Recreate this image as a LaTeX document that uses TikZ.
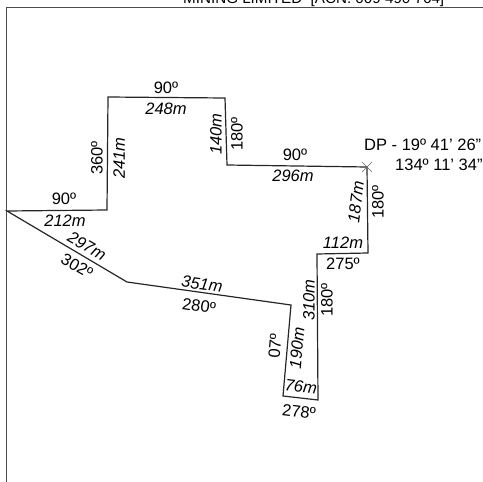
\documentclass[tikz,border=0pt]{standalone}
\usepackage{fontspec}
\setmainfont{Liberation Sans}
\usetikzlibrary{calc}
\tikzset{
  x=1pt,y=-1pt,
  seglabel/.style={inner sep=0pt,font=\fontsize{16.5}{18}\selectfont\itshape},
  anglabel/.style={inner sep=0pt,font=\fontsize{16.5}{18}\selectfont},
  boundary/.style={line width=1.2pt,black!85},
}
\begin{document}
\begin{tikzpicture}
  \useasboundingbox (0,0) rectangle (483,482);
  % frame
  \coordinate (frameTL) at (6,7);
  \coordinate (frameBL) at (6,482);
  \coordinate (frameTR) at (483,7);
  \draw[line width=1pt,black!70] (frameBL) -- (frameTL) -- (frameTR);
  \node[anchor=base west,inner sep=0pt,font=\fontsize{15.2}{16}\selectfont] (title) at (183,3) {MINING LIMITED \ [ACN: 009 490 764]};
  % lease boundary
  \coordinate (ptA) at (7,211);
  \coordinate (ptB) at (107,210);
  \coordinate (ptC) at (108,97);
  \coordinate (ptD) at (225,98);
  \coordinate (ptE) at (227,165);
  \coordinate (ptF) at (367,167);
  \coordinate (ptG) at (368,253);
  \coordinate (ptH) at (317,254);
  \coordinate (ptI) at (318,400);
  \coordinate (ptJ) at (283,396);
  \coordinate (ptK) at (291,305);
  \coordinate (ptL) at (127,282);
  \draw[boundary] (ptA) -- (ptB) -- (ptC) -- (ptD) -- (ptE) -- (ptF) -- (ptG) -- (ptH) -- (ptI) -- (ptJ) -- (ptK) -- (ptL) -- cycle;
  % datum post
  \draw[black!60,line width=0.5pt] ($(ptF)+(-5,-5)$) -- ($(ptF)+(5,5)$) ($(ptF)+(-5,5)$) -- ($(ptF)+(5,-5)$);
  \node[anchor=west,inner sep=0pt,font=\fontsize{16.5}{18}\selectfont] (dpLat) at (364,145) {DP - 19º 41' 26"};
  \node[anchor=west,inner sep=0pt,font=\fontsize{16.5}{18}\selectfont] (dpLon) at (395,165) {134º 11' 34"};
  % labels
  \node[anglabel] (a1) at (64,199) {90º};
  \node[seglabel] (s1) at (65,221) {212m};
  \node[anglabel,rotate=90] (a2) at (97,158) {360º};
  \node[seglabel,rotate=90] (s2) at (119,158) {241m};
  \node[anglabel] (a3) at (166,88) {90º};
  \node[seglabel] (s3) at (166,109) {248m};
  \node[seglabel,rotate=90] (s4) at (216,134) {140m};
  \node[anglabel,rotate=90] (a4) at (237,134) {180º};
  \node[anglabel] (a5) at (295,155) {90º};
  \node[seglabel] (s5) at (293,176) {296m};
  \node[seglabel,rotate=83] (s6) at (356,202) {187m};
  \node[anglabel,rotate=90] (a6) at (378,202) {180º};
  \node[seglabel] (s7) at (343,243) {112m};
  \node[anglabel] (a7) at (343,264) {275º};
  \node[seglabel,rotate=90] (s8) at (309,300) {310m};
  \node[anglabel,rotate=90] (a8) at (327,300) {180º};
  \node[seglabel,rotate=85] (s9) at (297,348) {190m};
  \node[anglabel,rotate=85] (a9) at (275,346) {07º};
  \node[seglabel,rotate=-7] (s10) at (301,387) {76m};
  \node[anglabel,rotate=-7] (a10) at (299,412) {278º};
  \node[seglabel,rotate=-8] (s11) at (202,284) {351m};
  \node[anglabel,rotate=-8] (a11) at (199,306) {280º};
  \node[seglabel,rotate=-30] (s12) at (87,246) {297m};
  \node[anglabel,rotate=-30] (a12) at (77,266) {302º};
\end{tikzpicture}
\end{document}
